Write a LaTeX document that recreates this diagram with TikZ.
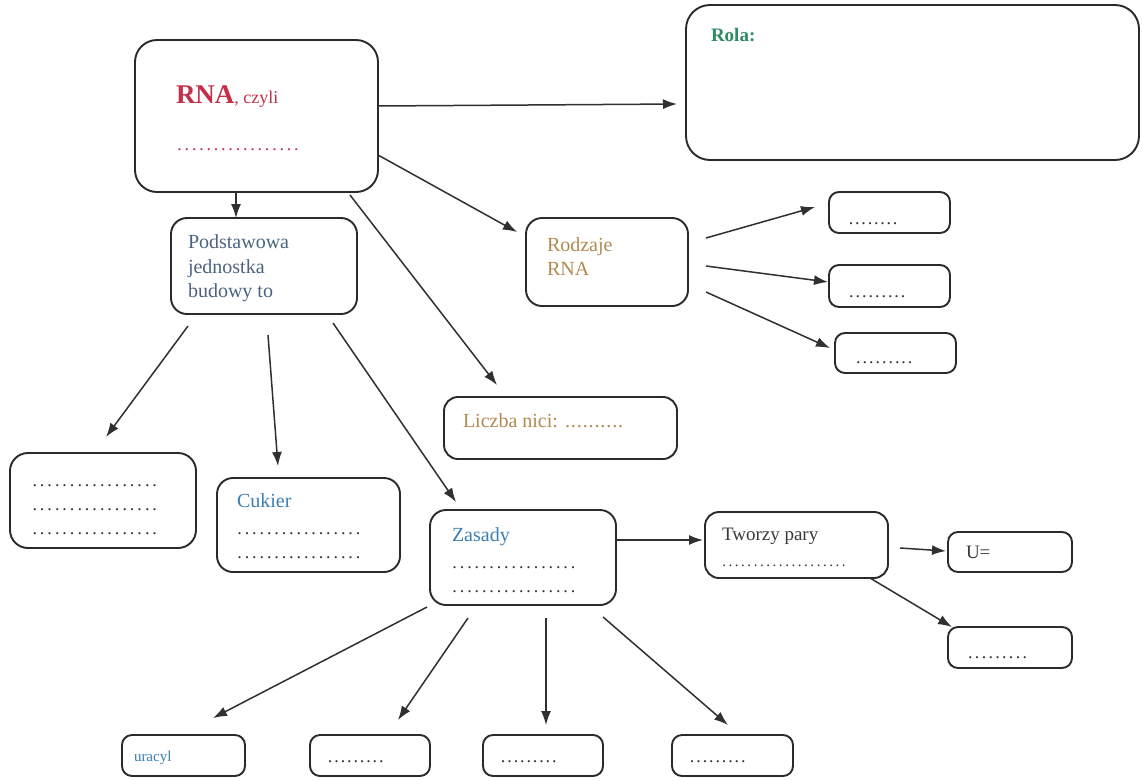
\documentclass[tikz,border=0pt]{standalone}
\usepackage{fontspec}
\setmainfont{Liberation Serif}
\usetikzlibrary{calc,arrows.meta}
\definecolor{boxc}{HTML}{2A2A2A}
\definecolor{arrc}{HTML}{303030}
\definecolor{rnared}{HTML}{C3304A}
\definecolor{rolagreen}{HTML}{2E8B62}
\definecolor{slate}{HTML}{4A6480}
\definecolor{tan}{HTML}{B08A50}
\definecolor{bluet}{HTML}{3C7FB0}
\definecolor{darkt}{HTML}{3A3A3A}
\definecolor{dotc}{HTML}{333333}
\newcommand\dts[2]{\foreach \i in {1,...,#1}{\makebox[#2pt]{.}}}
\tikzset{
  box/.style={draw=boxc, line width=1.9pt, rounded corners=#1, inner sep=0pt, outer sep=0pt},
  box/.default=14pt,
  arr/.style={draw=arrc, line width=1.5pt, -{Latex[length=14pt,width=10pt]}},
  txt/.style={anchor=base west, inner sep=0pt, outer sep=0pt, font=\fontsize{20}{24}\selectfont},
  dottxt/.style={anchor=base west, inner sep=0pt, outer sep=0pt, text=dotc, font=\fontsize{18}{22}\selectfont}
}
\begin{document}
\begin{tikzpicture}[x=1pt,y=-1pt]
\useasboundingbox[fill=white] (0,0) rectangle (1142,780);

% boxes
\node[box=22pt, minimum width=243pt, minimum height=152pt] (rna) at (256.5,116) {};
\node[box=24pt, minimum width=453pt, minimum height=155pt] (rola) at (912.5,82.5) {};
\node[box=16pt, minimum width=186pt, minimum height=96pt] (pod) at (264,266) {};
\node[box=16pt, minimum width=162pt, minimum height=88pt] (rodz) at (607,262) {};
\node[box=10pt, minimum width=121pt, minimum height=41pt] (r1) at (889.5,212.5) {};
\node[box=10pt, minimum width=121pt, minimum height=42pt] (r2) at (889.5,286) {};
\node[box=10pt, minimum width=121pt, minimum height=40pt] (r3) at (895.5,353) {};
\node[box=14pt, minimum width=233pt, minimum height=62pt] (licz) at (560.5,428) {};
\node[box=18pt, minimum width=186pt, minimum height=95pt] (left) at (103,500.5) {};
\node[box=16pt, minimum width=183pt, minimum height=94pt] (cuk) at (308.5,525) {};
\node[box=16pt, minimum width=186pt, minimum height=95pt] (zas) at (523,557.5) {};
\node[box=14pt, minimum width=183pt, minimum height=66pt] (twor) at (796.5,545) {};
\node[box=10pt, minimum width=124pt, minimum height=40pt] (ueq) at (1010,552) {};
\node[box=10pt, minimum width=124pt, minimum height=41pt] (low) at (1010,647.5) {};
\node[box=10pt, minimum width=123pt, minimum height=41pt] (b1) at (183.5,755.5) {};
\node[box=10pt, minimum width=120pt, minimum height=41pt] (b2) at (370,755.5) {};
\node[box=10pt, minimum width=120pt, minimum height=41pt] (b3) at (543,755.5) {};
\node[box=10pt, minimum width=121pt, minimum height=41pt] (b4) at (732.5,755.5) {};

% texts
\node[txt, text=rnared] (rnat) at (176,103) {{\fontsize{27}{30}\selectfont\bfseries RNA}{\fontsize{18}{22}\selectfont, czyli}};
\node[dottxt, text=rnared] (rnad) at (176,150) {\dts{17}{7.3}};
\node[txt, text=rolagreen, font=\fontsize{19}{23}\selectfont\bfseries] (rolat) at (711,41) {Rola:};
\node[txt, text=slate] (pod1) at (188,248) {Podstawowa};
\node[txt, text=slate] (pod2) at (188,273) {jednostka};
\node[txt, text=slate] (pod3) at (188,297) {budowy to};
\node[txt, text=tan] (rodz1) at (547,251) {Rodzaje};
\node[txt, text=tan] (rodz2) at (547,275) {RNA};
\node[dottxt] (r1d) at (848,224) {\dts{8}{6.3}};
\node[dottxt] (r2d) at (848,297) {\dts{9}{6.5}};
\node[dottxt] (r3d) at (855,363) {\dts{9}{6.5}};
\node[txt, text=tan] (liczt) at (463,427) {Liczba nici: \dts{10}{5.9}};
\node[dottxt] (left1) at (31,486) {\dts{17}{7.5}};
\node[dottxt] (left2) at (31,510) {\dts{17}{7.5}};
\node[dottxt] (left3) at (31,534) {\dts{17}{7.5}};
\node[txt, text=bluet] (cukt) at (237,507) {Cukier};
\node[dottxt] (cuk1) at (236,534) {\dts{17}{7.4}};
\node[dottxt] (cuk2) at (236,558) {\dts{17}{7.4}};
\node[txt, text=bluet] (zast) at (452,541) {Zasady};
\node[dottxt] (zas1) at (451,568) {\dts{17}{7.4}};
\node[dottxt] (zas2) at (451,592) {\dts{17}{7.4}};
\node[txt, text=darkt, font=\fontsize{19}{23}\selectfont] (twort) at (722,540) {Tworzy pary};
\node[dottxt, font=\fontsize{15}{18}\selectfont] (twordt) at (721,566) {\dts{20}{6.3}};
\node[txt, text=darkt, font=\fontsize{19}{23}\selectfont] (ueqt) at (966,558) {U=};
\node[dottxt] (lowd) at (967,658) {\dts{9}{6.8}};
\node[txt, text=bluet, font=\fontsize{15}{18}\selectfont] (b1t) at (134,761) {uracyl};
\node[dottxt] (b2d) at (327,762) {\dts{9}{6.4}};
\node[dottxt] (b3d) at (500,762) {\dts{9}{6.4}};
\node[dottxt] (b4d) at (689,762) {\dts{9}{6.4}};

% connectors
\draw[arr] ($(rna.north east)+(0,66)$) -- ($(rola.north west)+(-9,99)$);
\draw[arr] ($(rna.north east)+(0,115)$) -- ($(rodz.north west)+(-9,14)$);
\draw[arr] ($(rna.south)+(-20.5,0)$) -- ($(pod.north)+(-28,0)$);
\draw[arr] ($(rna.south east)+(-28,3)$) -- ($(licz.north west)+(53,-12)$);
\draw[arr] ($(rodz.north east)+(18,20)$) -- ($(r1.west)+(-14,-5.5)$);
\draw[arr] ($(rodz.east)+(18,4)$) -- ($(r2.west)+(-1,-4)$);
\draw[arr] ($(rodz.east)+(18,30)$) -- ($(r3.west)+(-5,-5)$);
\draw[arr] ($(pod.south west)+(17,12)$) -- ($(left.north)+(3,-16)$);
\draw[arr] ($(pod.south)+(4,21)$) -- ($(cuk.north)+(-30.5,-12)$);
\draw[arr] ($(pod.south east)+(-24,9)$) -- ($(zas.north west)+(26,-8)$);
\draw[arr] ($(zas.north east)+(1,30)$) -- ($(twor.north west)+(-2,28)$);
\draw[arr] ($(twor.east)+(12,3)$) -- ($(ueq.west)+(-2,-1)$);
\draw[arr] ($(twor.south east)+(-18,0)$) -- ($(low.north west)+(4,0)$);
\draw[arr] ($(zas.south west)+(-3,2)$) -- ($(b1.north)+(29.5,-17)$);
\draw[arr] ($(zas.south west)+(38,13)$) -- ($(b2.north)+(28,-15)$);
\draw[arr] ($(zas.south)+(23,13)$) -- ($(b3.north)+(3,-10)$);
\draw[arr] ($(zas.south east)+(-13,12)$) -- ($(b4.north)+(-4.5,-10)$);
\end{tikzpicture}
\end{document}
